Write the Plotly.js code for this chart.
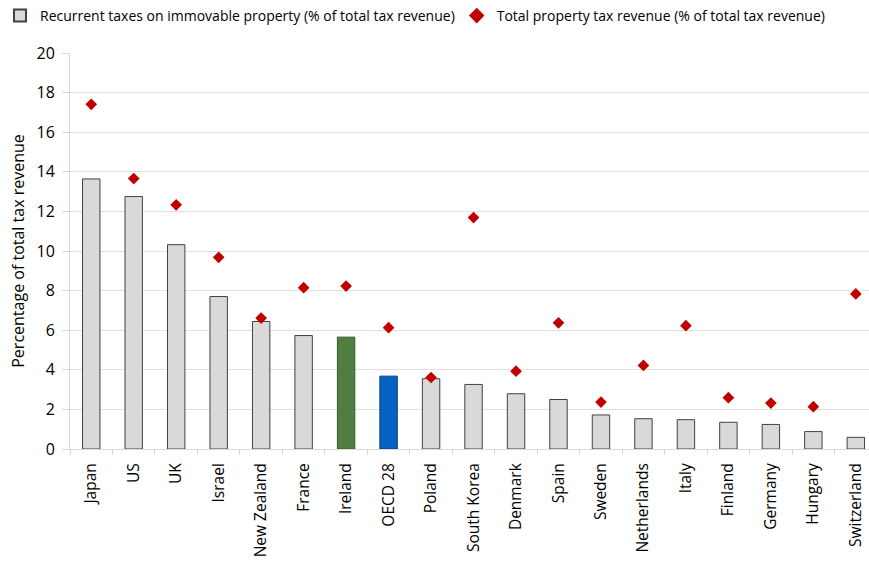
<!DOCTYPE html>
<html>
<head>
<meta charset="utf-8">
<script src="https://cdn.plot.ly/plotly-3.0.1.min.js"></script>
<style>html,body{margin:0;padding:0;background:#fff;overflow:hidden}#chart{width:869px;height:565px}</style>
</head>
<body>
<div id="chart"></div>
<script>
const countries = ["Japan","US","UK","Israel","New Zealand","France","Ireland","OECD 28","Poland","South Korea","Denmark","Spain","Sweden","Netherlands","Italy","Finland","Germany","Hungary","Switzerland"];
const recurrentTaxes = [13.64,12.75,10.32,7.70,6.44,5.73,5.65,3.68,3.55,3.26,2.79,2.50,1.72,1.53,1.48,1.35,1.24,0.88,0.59];
const totalPropertyTax = [17.41,13.66,12.33,9.68,6.61,8.15,8.23,6.13,3.61,11.69,3.93,6.37,2.37,4.22,6.23,2.59,2.32,2.14,7.83];
const yTicks = [0,2,4,6,8,10,12,14,16,18,20];

const barColors = countries.map(c => c === "Ireland" ? "#507E3F" : (c === "OECD 28" ? "#0563C1" : "#D9D9D9"));
const barLines = countries.map(c => c === "Ireland" ? "#3a5c2e" : (c === "OECD 28" ? "#0a3f80" : "#404040"));

const font = "Open Sans, Liberation Sans, sans-serif";

const traces = [
  {
    type: "bar",
    name: "Recurrent taxes on immovable property (% of total tax revenue)",
    x: countries,
    y: recurrentTaxes,
    width: 0.41,
    marker: {color: barColors, line: {color: barLines, width: 1}},
    legend: "legend",
    hoverinfo: "x+y"
  },
  {
    type: "scatter",
    mode: "markers",
    name: "Total property tax revenue (% of total tax revenue)",
    x: countries,
    y: totalPropertyTax,
    marker: {symbol: "diamond", color: "#C00000", size: 9},
    legend: "legend2",
    hoverinfo: "x+y"
  }
];

const legendFont = {family: font, size: 14, color: "#000"};

const layout = {
  width: 869,
  height: 565,
  margin: {l: 70, r: 0, t: 52, b: 116},
  paper_bgcolor: "#fff",
  plot_bgcolor: "#fff",
  font: {family: font, size: 14, color: "#000"},
  showlegend: true,
  legend: {
    orientation: "h",
    x: -0.0876, xanchor: "left",
    y: 1.135, yanchor: "top",
    font: legendFont,
    itemsizing: "constant",
    bgcolor: "rgba(0,0,0,0)"
  },
  legend2: {
    orientation: "h",
    x: 0.484, xanchor: "left",
    y: 1.135, yanchor: "top",
    font: legendFont,
    itemsizing: "constant",
    bgcolor: "rgba(0,0,0,0)"
  },
  xaxis: {
    type: "category",
    range: [-0.5, 18.31],
    tickangle: -90,
    tickson: "boundaries",
    ticks: "outside",
    ticklen: 5,
    tickcolor: "#D9D9D9",
    showline: true,
    linecolor: "#D9D9D9",
    linewidth: 1,
    showgrid: false,
    tickfont: {family: font, size: 15.5, color: "#000"},
    ticklabelstandoff: 7
  },
  yaxis: {
    range: [0, 20],
    tickvals: yTicks,
    ticktext: yTicks.map(String),
    ticks: "outside",
    ticklen: 7,
    tickcolor: "#D9D9D9",
    showline: true,
    linecolor: "#D9D9D9",
    linewidth: 1,
    showgrid: true,
    gridcolor: "#E0E0E0",
    gridwidth: 1,
    zeroline: false,
    tickfont: {family: font, size: 16, color: "#000"},
    ticklabelstandoff: 4,
    title: {text: "Percentage of total tax revenue", font: {family: font, size: 16, color: "#000"}, standoff: 7}
  },
  bargap: 0.59
};

Plotly.newPlot("chart", traces, layout, {displayModeBar: false, staticPlot: true});
</script>
</body>
</html>
